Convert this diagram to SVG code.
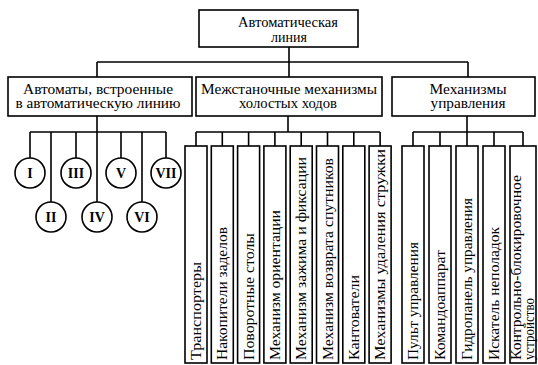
<svg xmlns="http://www.w3.org/2000/svg" width="538" height="365" viewBox="0 0 538 365">
<style>
.b{fill:#fff;stroke:#000;stroke-width:1.6}
.c{fill:none;stroke:#000;stroke-width:1.6}
text{font-family:"Liberation Serif","Times New Roman",serif;font-size:15px;fill:#000}
.h{font-size:14px}
.m{text-anchor:middle}
.r{font-weight:bold;font-size:14px;text-anchor:middle}
</style>
<rect width="538" height="365" fill="#fff"/>
<g id="connectors" class="c">
<path d="M289,47V77M97,62H468M97,62V77M468,62V77"/>
<path d="M97,116V202M30,132H166M30,132V158M51,132V202M76,132V158M121,132V158M142,132V202M166,132V158"/>
<path d="M288,116V132M196,132H380M196,132V146M222.3,132V146M248.6,132V146M274.9,132V146M301.2,132V146M327.5,132V146M353.8,132V146M380.1,132V146"/>
<path d="M467,116V132M413,132H523M413,132V146M440,132V146M467,132V146M494,132V146M523,132V146"/>
</g>
<g id="root"><rect class="b" x="199" y="10" width="159" height="37"/>
<text class="m h" x="288" y="27" textLength="100" lengthAdjust="spacingAndGlyphs">Автоматическая</text>
<text class="m h" x="289" y="42">линия</text></g>
<g id="automaty"><rect class="b" x="8" y="77" width="184" height="39"/>
<text class="m h" x="98" y="94" textLength="150" lengthAdjust="spacingAndGlyphs">Автоматы, встроенные</text>
<text class="m h" x="98" y="108" textLength="165" lengthAdjust="spacingAndGlyphs">в автоматическую линию</text></g>
<g id="mezhstanochnye"><rect class="b" x="196" y="77" width="186" height="39"/>
<text class="m h" x="289" y="94" textLength="176" lengthAdjust="spacingAndGlyphs">Межстаночные механизмы</text>
<text class="m h" x="288" y="108" textLength="98" lengthAdjust="spacingAndGlyphs">холостых ходов</text></g>
<g id="upravlenie"><rect class="b" x="392" y="77" width="143" height="39"/>
<text class="m h" x="468" y="94" textLength="77" lengthAdjust="spacingAndGlyphs">Механизмы</text>
<text class="m h" x="468" y="108" textLength="75" lengthAdjust="spacingAndGlyphs">управления</text></g>
<g id="c1"><circle class="b" cx="30" cy="173" r="15"/><text class="r" x="30" y="178">I</text></g>
<g id="c2"><circle class="b" cx="51" cy="217" r="15"/><text class="r" x="51" y="222">II</text></g>
<g id="c3"><circle class="b" cx="76" cy="173" r="15"/><text class="r" x="76" y="178">III</text></g>
<g id="c4"><circle class="b" cx="97" cy="217" r="15"/><text class="r" x="97" y="222">IV</text></g>
<g id="c5"><circle class="b" cx="121" cy="173" r="15"/><text class="r" x="121" y="178">V</text></g>
<g id="c6"><circle class="b" cx="142" cy="217" r="15"/><text class="r" x="142" y="222">VI</text></g>
<g id="c7"><circle class="b" cx="166" cy="173" r="15"/><text class="r" x="166" y="178">VII</text></g>
<g id="m1"><rect class="b" x="185" y="146" width="22" height="217"/><text transform="translate(201,360) rotate(-90)" textLength="98" lengthAdjust="spacingAndGlyphs">Транспортеры</text></g>
<g id="m2"><rect class="b" x="211.3" y="146" width="22" height="217"/><text transform="translate(227.3,360) rotate(-90)" textLength="133" lengthAdjust="spacingAndGlyphs">Накопители заделов</text></g>
<g id="m3"><rect class="b" x="237.6" y="146" width="22" height="217"/><text transform="translate(253.6,360) rotate(-90)" textLength="127" lengthAdjust="spacingAndGlyphs">Поворотные столы</text></g>
<g id="m4"><rect class="b" x="263.9" y="146" width="22" height="217"/><text transform="translate(279.9,360) rotate(-90)" textLength="150" lengthAdjust="spacingAndGlyphs">Механизм ориентации</text></g>
<g id="m5"><rect class="b" x="290.2" y="146" width="22" height="217"/><text transform="translate(306.2,360) rotate(-90)" textLength="203" lengthAdjust="spacingAndGlyphs">Механизм зажима и фиксации</text></g>
<g id="m6"><rect class="b" x="316.5" y="146" width="22" height="217"/><text transform="translate(332.5,360) rotate(-90)" textLength="202" lengthAdjust="spacingAndGlyphs">Механизм возврата спутников</text></g>
<g id="m7"><rect class="b" x="342.8" y="146" width="22" height="217"/><text transform="translate(358.8,360) rotate(-90)" textLength="85" lengthAdjust="spacingAndGlyphs">Кантователи</text></g>
<g id="m8"><rect class="b" x="369.1" y="146" width="22" height="217"/><text transform="translate(385.1,360) rotate(-90)" textLength="211" lengthAdjust="spacingAndGlyphs">Механизмы удаления стружки</text></g>
<g id="u1"><rect class="b" x="402" y="146" width="22" height="217"/><text transform="translate(418,360) rotate(-90)" textLength="118" lengthAdjust="spacingAndGlyphs">Пульт управления</text></g>
<g id="u2"><rect class="b" x="429" y="146" width="22" height="217"/><text transform="translate(445,360) rotate(-90)" textLength="110" lengthAdjust="spacingAndGlyphs">Командоаппарат</text></g>
<g id="u3"><rect class="b" x="456" y="146" width="22" height="217"/><text transform="translate(472,360) rotate(-90)" textLength="162" lengthAdjust="spacingAndGlyphs">Гидропанель управления</text></g>
<g id="u4"><rect class="b" x="483" y="146" width="22" height="217"/><text transform="translate(499,360) rotate(-90)" textLength="133" lengthAdjust="spacingAndGlyphs">Искатель неполадок</text></g>
<g id="u5"><rect class="b" x="510" y="146" width="26" height="217"/><text class="h" transform="translate(521,360) rotate(-90)" textLength="185" lengthAdjust="spacingAndGlyphs">Контрольно-блокировочное</text><text class="h" transform="translate(534,360) rotate(-90)" textLength="62" lengthAdjust="spacingAndGlyphs">устройство</text></g>
</svg>
